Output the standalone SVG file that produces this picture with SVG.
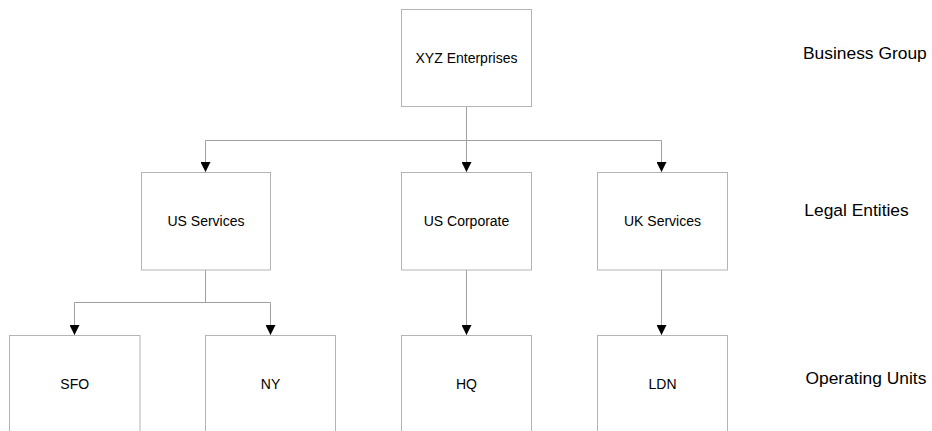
<svg xmlns="http://www.w3.org/2000/svg" width="932" height="431" viewBox="0 0 932 431">
<style>
.box{fill:#ffffff;stroke:#b4b4b4;stroke-width:1}
.lbl{font-family:"Liberation Sans",Arial,sans-serif;font-size:14px;fill:#000;text-anchor:middle}
.lvl{font-family:"Liberation Sans",Arial,sans-serif;font-size:17.4px;fill:#000}
.con{fill:none;stroke:#a0a0a0;stroke-width:1}
</style>
<defs>
<marker id="arr" markerWidth="10" markerHeight="10" refX="10" refY="5" orient="auto" markerUnits="userSpaceOnUse">
<path d="M0,0 L10,5 L0,10 Z" fill="#000"/>
</marker>
</defs>
<rect width="932" height="431" fill="#ffffff"/>
<g id="connectors">
<path class="con" d="M466.5,106.5 V140.5" />
<path class="con" d="M205.5,140.5 H661.5" />
<path class="con" d="M205.5,140.5 V172" marker-end="url(#arr)"/>
<path class="con" d="M466.5,140.5 V172" marker-end="url(#arr)"/>
<path class="con" d="M661.5,140.5 V172" marker-end="url(#arr)"/>
<path class="con" d="M205.5,270 V302.5 M74.5,302.5 H270.5"/>
<path class="con" d="M74.5,302.5 V335" marker-end="url(#arr)"/>
<path class="con" d="M270.5,302.5 V335" marker-end="url(#arr)"/>
<path class="con" d="M466.5,270 V335" marker-end="url(#arr)"/>
<path class="con" d="M661.5,270 V335" marker-end="url(#arr)"/>
</g>
<g id="xyz"><rect class="box" x="401.5" y="9.5" width="130" height="97"/><text class="lbl" x="466.5" y="63.3">XYZ Enterprises</text></g>
<g id="usservices"><rect class="box" x="141.5" y="172.5" width="129" height="97.5"/><text class="lbl" x="206" y="226">US Services</text></g>
<g id="uscorporate"><rect class="box" x="401.5" y="172.5" width="130" height="97.5"/><text class="lbl" x="466.5" y="226">US Corporate</text></g>
<g id="ukservices"><rect class="box" x="597.5" y="172.5" width="130" height="97.5"/><text class="lbl" x="662.5" y="226">UK Services</text></g>
<g id="sfo"><rect class="box" x="9.5" y="335.5" width="130.5" height="97.5"/><text class="lbl" x="74.7" y="388.7">SFO</text></g>
<g id="ny"><rect class="box" x="205.5" y="335.5" width="130" height="97.5"/><text class="lbl" x="270.5" y="388.7">NY</text></g>
<g id="hq"><rect class="box" x="401.5" y="335.5" width="130" height="97.5"/><text class="lbl" x="466.5" y="388.7">HQ</text></g>
<g id="ldn"><rect class="box" x="597.5" y="335.5" width="130" height="97.5"/><text class="lbl" x="662.5" y="388.7">LDN</text></g>
<g id="levels">
<text class="lvl" x="803" y="58.7">Business Group</text>
<text class="lvl" x="804.3" y="215.5">Legal Entities</text>
<text class="lvl" x="805.5" y="384.3">Operating Units</text>
</g>
</svg>
